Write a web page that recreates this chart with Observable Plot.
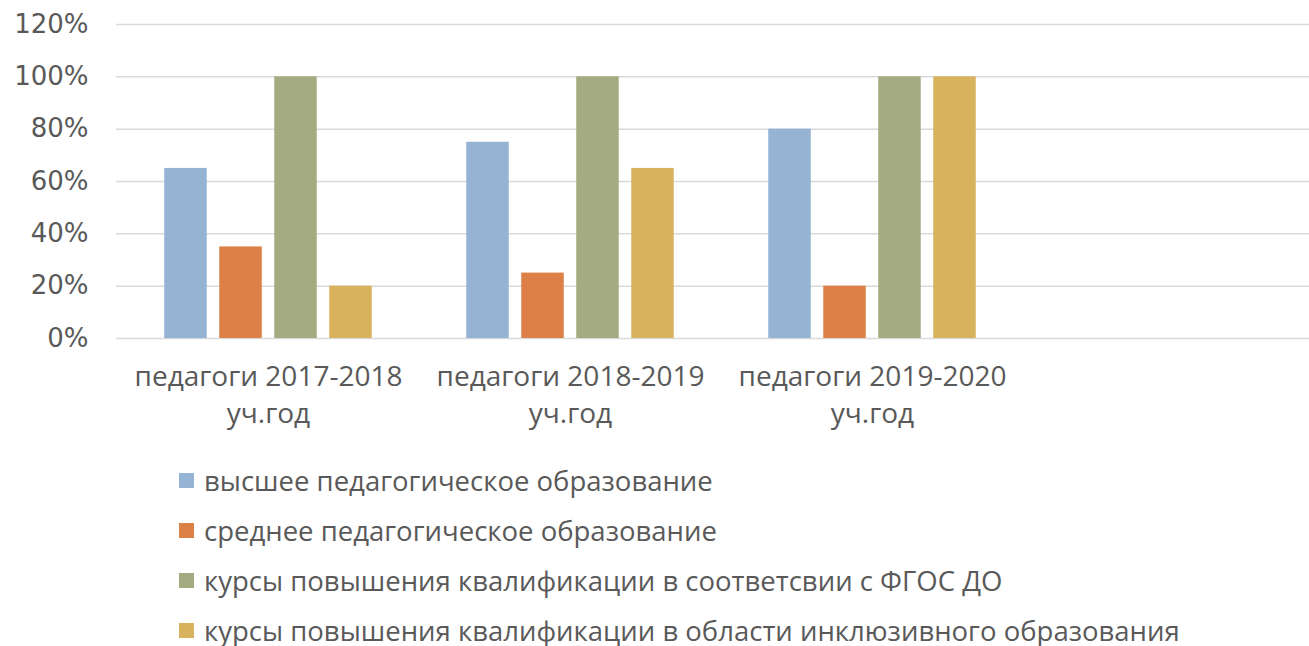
<!DOCTYPE html>
<html>
<head>
<meta charset="utf-8">
<script src="https://cdn.jsdelivr.net/npm/d3@7"></script>
<script src="https://cdn.jsdelivr.net/npm/@observablehq/plot@0.6"></script>
<style>
  body { margin: 0; background: #fff; }
  #legend { padding: 5px 0 0 179px; font-family: "Open Sans", sans-serif; font-size: 27.5px; color: #595959; }
  .row { height: 50px; display: flex; align-items: center; }
  .sw { width: 15px; height: 15px; margin-right: 10px; flex: none; }
</style>
</head>
<body>
<div id="chart"></div>
<div id="legend"></div>
<script>
const groups = ["педагоги 2017-2018\nуч.год", "педагоги 2018-2019\nуч.год", "педагоги 2019-2020\nуч.год", ""];
const series = [
  "высшее педагогическое образование",
  "среднее педагогическое образование",
  "курсы повышения квалификации в соответсвии с ФГОС ДО",
  "курсы повышения квалификации в области инклюзивного образования"
];
const colors = ["#95b3d3", "#dd8047", "#a5ab81", "#d8b25c"];
const higherEd = [0.65, 0.75, 0.80];
const secondaryEd = [0.35, 0.25, 0.20];
const fgosCourses = [1.00, 1.00, 1.00];
const inclusiveCourses = [0.20, 0.65, 1.00];
const yTicks = [0, 0.2, 0.4, 0.6, 0.8, 1.0, 1.2];

const seriesValues = [higherEd, secondaryEd, fgosCourses, inclusiveCourses];
const data = seriesValues.flatMap((vals, si) => vals.map((v, gi) => ({group: groups[gi], series: series[si], value: v, si})));

const width = 1309, height = 450;
const bandW = 302.5, barW = 43, step = 55;
const inset = (bandW - barW) / 2;

const bars = series.map((s, si) => Plot.barY(data.filter(d => d.si === si), {
  x: "group", y: "value", fill: colors[si],
  insetLeft: inset, insetRight: inset,
  dx: (si - 1.5) * step
}));

const chart = Plot.plot({
  width, height,
  marginLeft: 116, marginRight: 0, marginTop: 24, marginBottom: 112,
  x: {domain: groups, range: [116, 116 + bandW * 4], padding: 0},
  y: {domain: [0, 1.2]},
  style: {fontFamily: "Open Sans, sans-serif", color: "#595959", background: "#fff"},
  marks: [
    Plot.ruleY(yTicks, {stroke: "#d9d9d9", strokeWidth: 1.5}),
    ...bars,
    Plot.axisY({ticks: yTicks, tickSize: 0, tickPadding: 28, tickFormat: d => Math.round(d * 100) + "%",
      fontSize: 26, fontFamily: "DejaVu Sans, sans-serif", fill: "#595959", label: null}),
    Plot.axisX({tickSize: 0, tickPadding: 21, fontSize: 28, lineHeight: 1.33, fill: "#595959", label: null})
  ]
});
document.getElementById("chart").appendChild(chart);

const legend = document.getElementById("legend");
series.forEach((s, i) => {
  const row = document.createElement("div");
  row.className = "row";
  row.innerHTML = `<span class="sw" style="background:${colors[i]}"></span><span>${s}</span>`;
  legend.appendChild(row);
});
</script>
</body>
</html>
